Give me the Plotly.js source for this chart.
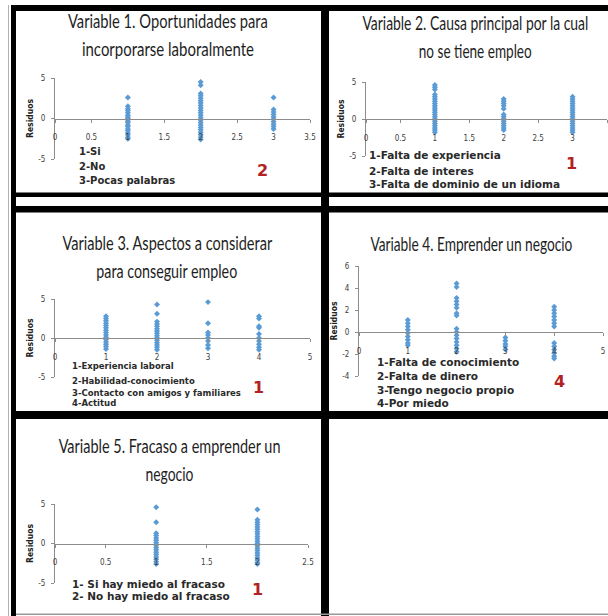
<!DOCTYPE html>
<html><head><meta charset="utf-8">
<script src="https://cdn.plot.ly/plotly-3.0.1.min.js"></script>
<style>html,body{margin:0;padding:0;background:#fff}#chart{width:608px;height:616px}</style>
</head><body><div id="chart"></div>
<script>
// ---------------- DATA (residuos por categoría) ----------------
const v1_titulo = ["Variable 1. Oportunidades para", "incorporarse laboralmente"];
const v1_leyenda = ["1-Si", "2-No", "3-Pocas palabras"];
const v1_si    = [2.6, 1.5, 1.2, 1.0, 0.7, 0.4, 0.2, 0.0, -0.3, -0.5, -0.8, -1.0, -1.3, -1.5, -1.8, -2.0, -2.3, -2.5];
const v1_no    = [4.5, 4.1, 3.1, 2.8, 2.5, 2.2, 1.9, 1.6, 1.3, 1.0, 0.7, 0.4, 0.1, -0.2, -0.5, -0.8, -1.1, -1.4, -1.7, -2.0, -2.3, -2.6];
const v1_pocas = [2.6, 1.1, 0.8, 0.5, 0.2, -0.1, -0.4, -0.7, -1.0, -1.3];
const v1_marca = "2";

const v2_titulo = ["Variable 2. Causa principal por la cual", "no se tiene empleo"];
const v2_leyenda = ["1-Falta de experiencia", "2-Falta de interes", "3-Falta de dominio de un idioma"];
const v2_experiencia = [4.6, 4.3, 4.0, 3.3, 3.0, 2.7, 2.4, 2.1, 1.8, 1.5, 1.2, 0.9, 0.6, 0.3, 0.0, -0.3, -0.6, -0.9, -1.2, -1.5, -1.8];
const v2_interes     = [2.7, 2.4, 2.1, 1.8, 1.4, 0.6, 0.3, 0.0, -0.3, -0.6, -0.9, -1.2, -1.5];
const v2_idioma      = [3.0, 2.7, 2.4, 2.1, 1.8, 1.5, 1.2, 0.9, 0.6, 0.3, 0.0, -0.3, -0.6, -0.9, -1.2, -1.5, -1.8];
const v2_marca = "1";

const v3_titulo = ["Variable 3. Aspectos a considerar", "para conseguir empleo"];
const v3_leyenda = ["1-Experiencia laboral", "2-Habilidad-conocimiento", "3-Contacto con amigos y familiares", "4-Actitud"];
const v3_experiencia = [2.8, 2.5, 2.2, 1.9, 1.6, 1.3, 1.0, 0.7, 0.4, 0.1, -0.2, -0.5, -0.8, -1.1, -1.4];
const v3_habilidad   = [4.3, 3.1, 2.1, 1.8, 1.5, 1.2, 0.9, 0.6, 0.3, 0.0, -0.3, -0.6, -0.9, -1.2, -1.5];
const v3_contacto    = [4.6, 1.9, 0.7, 0.4, 0.0, -0.4, -0.9, -1.3];
const v3_actitud     = [2.8, 2.5, 1.5, 1.3, 0.5, 0.0, -0.4, -0.8, -1.2, -1.5];
const v3_marca = "1";

const v4_titulo = ["Variable 4. Emprender un negocio"];
const v4_leyenda = ["1-Falta de conocimiento", "2-Falta de dinero", "3-Tengo negocio propio", "4-Por miedo"];
const v4_conocimiento = [1.1, 0.8, 0.5, 0.2, -0.1, -0.4, -0.7, -1.0, -1.2];
const v4_dinero       = [4.4, 4.1, 3.1, 2.8, 2.5, 2.2, 1.7, 1.5, 0.3, 0.0, -0.3, -0.6, -0.9, -1.2, -1.5, -1.8];
const v4_propio       = [-0.5, -0.8, -1.1, -1.3, -1.6];
const v4_miedo        = [2.3, 2.0, 1.7, 1.4, 1.1, 0.8, 0.5, -1.0, -1.3, -1.6, -1.9, -2.2, -2.4];
const v4_marca = "4";

const v5_titulo = ["Variable 5. Fracaso a emprender un", "negocio"];
const v5_leyenda = ["1- Si hay miedo al fracaso", "2- No hay miedo al fracaso"];
const v5_si = [4.6, 2.7, 1.3, 1.0, 0.7, 0.4, 0.1, -0.2, -0.5, -0.8, -1.1, -1.4, -1.7, -2.0, -2.3, -2.6];
const v5_no = [4.3, 3.0, 2.7, 2.4, 2.1, 1.8, 1.5, 1.2, 0.9, 0.6, 0.3, 0.0, -0.3, -0.6, -0.9, -1.2, -1.5, -1.8, -2.1, -2.4, -2.6];
const v5_marca = "1";

const ejeY_titulo = "Residuos";
const ticksY_a = [-5, 0, 5];
const ticksY_a_txt = ["-5", "0", "5"];
const ticksY_b = [-4, -2, 0, 2, 4, 6];
const ticksY_b_txt = ["-4", "-2", "0", "2", "4", "6"];

// ---------------- LAYOUT ----------------
const W = 608, H = 616;
const fx = px => px / W;
const fy = py => 1 - py / H;
const FT = "Lato, 'Open Sans', 'DejaVu Sans', sans-serif";
const FK = "'DejaVu Sans Condensed', 'Liberation Sans', sans-serif";
const FL = "'DejaVu Sans', Verdana, sans-serif";
const BLUE = '#5B9BD5', AX = '#8c8c8c', RED = '#B22222';

const panels = [
  {xpx:[55,310], ypx:[159,78], xr:[0,3.5], yr:[-5,5], dx:0.5, tv:ticksY_a, tt:ticksY_a_txt,
   series:[v1_si, v1_no, v1_pocas], title:v1_titulo, tw:[200,172], tx:168, ty:[20,48],
   leg:v1_leyenda, lx:77, ly:[152,167,181], lsize:10, mark:v1_marca, mx:262, my:170},
  {xpx:[366,607], ypx:[156,82], xr:[0,3.5], yr:[-5,5], dx:0.5, tv:ticksY_a, tt:ticksY_a_txt,
   series:[v2_experiencia, v2_interes, v2_idioma], title:v2_titulo, tw:[226,113], tx:475, ty:[22,50],
   leg:v2_leyenda, lx:367, ly:[155,171,184], lsize:10.5, mark:v2_marca, mx:571, my:163},
  {xpx:[55,310], ypx:[377,299], xr:[0,5], yr:[-5,5], dx:1, tv:ticksY_a, tt:ticksY_a_txt,
   series:[v3_experiencia, v3_habilidad, v3_contacto, v3_actitud], title:v3_titulo, tw:[210,141], tx:167, ty:[242,270],
   leg:v3_leyenda, lx:70, ly:[366,381,393,403], lsize:8.5, mark:v3_marca, mx:258, my:387},
  {xpx:[359,603], ypx:[376,266], xr:[0,5], yr:[-4,6], dx:1, tv:ticksY_b, tt:ticksY_b_txt,
   series:[v4_conocimiento, v4_dinero, v4_propio, v4_miedo], title:v4_titulo, tw:[202], tx:471, ty:[243],
   leg:v4_leyenda, lx:375, ly:[362,376,390,403], lsize:10.5, mark:v4_marca, mx:559, my:381},
  {xpx:[55,308], ypx:[583,504], xr:[0,2.5], yr:[-5,5], dx:0.5, tv:ticksY_a, tt:ticksY_a_txt,
   series:[v5_si, v5_no], title:v5_titulo, tw:[222,48], tx:169, ty:[445,473],
   leg:v5_leyenda, lx:70, ly:[584,596], lsize:10.5, mark:v5_marca, mx:257, my:589}
];

const traces = [];
const layout = {
  width: W, height: H, margin: {l:0, r:0, t:0, b:0},
  paper_bgcolor: '#fff', plot_bgcolor: 'rgba(0,0,0,0)',
  showlegend: false, annotations: [], shapes: []
};
const titleFit = []; // [annotation index, target width px]

panels.forEach((p, i) => {
  const n = i + 1;
  const xa = 'x' + (n === 1 ? '' : n), ya = 'y' + (n === 1 ? '' : n);
  const xk = 'xaxis' + (n === 1 ? '' : n), yk = 'yaxis' + (n === 1 ? '' : n);
  const yd = [fy(p.ypx[0]), fy(p.ypx[1])];
  const zeroPos = yd[0] + (0 - p.yr[0]) / (p.yr[1] - p.yr[0]) * (yd[1] - yd[0]);
  p.series.forEach((vals, c) => {
    traces.push({
      type: 'scatter', mode: 'markers', xaxis: xa, yaxis: ya,
      x: vals.map(() => c + 1), y: vals,
      marker: {color: BLUE, size: 4.6, symbol: 'diamond', line: {width: 0}},
      hoverinfo: 'x+y'
    });
  });
  layout[xk] = {
    domain: [fx(p.xpx[0]), fx(p.xpx[1])], range: p.xr, anchor: 'free', position: zeroPos,
    dtick: p.dx, tick0: 0, showgrid: false, zeroline: false,
    showline: true, linecolor: AX, linewidth: 1, ticks: 'outside', ticklen: 3, tickcolor: AX,
    ticklabelstandoff: 8, tickfont: {family: FK, size: 8, color: '#404040'}
  };
  layout[yk] = {
    domain: yd, range: p.yr, anchor: xa, tickvals: p.tv, ticktext: p.tt,
    showgrid: false, zeroline: false, showline: true, linecolor: AX, linewidth: 1,
    ticks: 'outside', ticklen: 3, tickcolor: AX, ticklabelstandoff: 4,
    tickfont: {family: FK, size: 8, color: '#404040'},
    title: {text: '<b>' + ejeY_titulo + '</b>', font: {family: FK, size: 8.5, color: '#222'}, standoff: 3}
  };
  p.title.forEach((t, k) => {
    titleFit.push([layout.annotations.length, p.tw[k]]);
    layout.annotations.push({xref:'paper', yref:'paper', x: fx(p.tx), y: fy(p.ty[k]),
      xanchor:'center', yanchor:'middle', showarrow:false, text: t,
      font:{family: FT, size: 20, color:'#1e1e1e'}});
  });
  p.leg.forEach((t, k) => {
    layout.annotations.push({xref:'paper', yref:'paper', x: fx(p.lx), y: fy(p.ly[k]),
      xanchor:'left', yanchor:'middle', showarrow:false, text: '<b>' + t + '</b>',
      font:{family: FL, size: p.lsize, color:'#2a2a2a'}});
  });
  layout.annotations.push({xref:'paper', yref:'paper', x: fx(p.mx), y: fy(p.my),
    xanchor:'center', yanchor:'middle', showarrow:false, text: '<b>' + p.mark + '</b>',
    font:{family: FL, size: 16, color: RED}});
});

// marco negro del cuadro
const rect = (x0, y0, x1, y1, col) => ({type:'rect', xref:'paper', yref:'paper', layer:'above',
  x0: fx(x0), x1: fx(x1), y0: fy(y0), y1: fy(y1), fillcolor: col, line:{width:0}});
layout.shapes.push(
  rect(8, 5, 9, 616, '#b0b0b0'),
  rect(11, 5, 16, 616, '#000'),
  rect(11, 5, 608, 11, '#000'),
  rect(321, 5, 329, 616, '#000'),
  rect(11, 192.5, 608, 197, '#000'),
  rect(11, 206, 608, 212.5, '#000'),
  rect(11, 411, 608, 419, '#000'),
  rect(16, 613.5, 608, 615, '#9a9a9a')
);

Plotly.newPlot('chart', traces, layout, {displayModeBar: false, responsive: false}).then(gd => {
  // títulos en letra estrecha (como Calibri comprimida del original)
  titleFit.forEach(([idx, w]) => {
    const g = gd.querySelector('g.annotation[data-index="' + idx + '"]');
    const t = g && g.querySelector('text.annotation-text');
    if (!t) return;
    const natural = t.getComputedTextLength();
    const s = w / natural;
    const cx = parseFloat(t.getAttribute('x')) || 0;
    t.setAttribute('transform', 'translate(' + cx + ',0) scale(' + s + ',1) translate(' + (-cx) + ',0)');
    const bg = g.querySelector('rect.bg');
    if (bg) {
      const bw = parseFloat(bg.getAttribute('width')) || 0;
      const bx = parseFloat(bg.getAttribute('x')) || 0;
      const nw = bw * s;
      bg.setAttribute('x', bx + (bw - nw) / 2);
      bg.setAttribute('width', nw);
    }
  });
});
</script></body></html>
